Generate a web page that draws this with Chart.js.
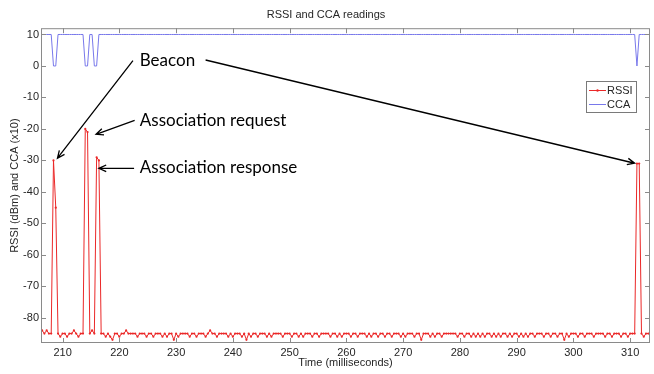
<!DOCTYPE html>
<html>
<head>
<meta charset="utf-8">
<script src="https://cdn.jsdelivr.net/npm/chart.js@4.4.0/dist/chart.umd.min.js"></script>
<style>
    html, body { margin: 0; padding: 0; background: #fff; }
    canvas { display: block; }
</style>
</head>
<body>
<canvas id="rssiChart" width="654" height="374"></canvas>
<script>
/*
    RSSI and CCA readings
*/
var startTime = 206.0;   // ms, first sample
var sampleStep = 0.4;    // ms between samples

var rssiValues = [
    -85, -84, -85, -84, -85, -85, -30, -45, -85, -86,
    -85, -85, -86, -85, -85, -84, -85, -86, -85, -85,
    -20, -21, -85, -84, -85, -29, -30, -85, -85, -86,
    -85, -86, -87, -85, -85, -86, -85, -85, -84, -85,
    -85, -85, -85, -86, -85, -85, -85, -86, -85, -85,
    -86, -85, -85, -85, -86, -85, -86, -85, -85, -87,
    -85, -86, -85, -85, -85, -85, -86, -85, -85, -86,
    -85, -85, -85, -86, -85, -84, -85, -85, -86, -85,
    -85, -85, -85, -86, -85, -86, -85, -85, -85, -86,
    -85, -87, -85, -86, -85, -85, -86, -85, -85, -85,
    -86, -85, -86, -85, -85, -85, -85, -86, -85, -85,
    -85, -86, -85, -85, -86, -85, -86, -85, -85, -85,
    -86, -85, -85, -86, -85, -85, -85, -85, -86, -85,
    -85, -86, -85, -86, -85, -85, -85, -86, -85, -85,
    -86, -85, -85, -85, -86, -85, -86, -85, -85, -86,
    -85, -85, -86, -85, -85, -86, -85, -85, -85, -86,
    -85, -86, -85, -85, -85, -86, -85, -85, -87, -85,
    -85, -85, -86, -85, -86, -85, -85, -86, -85, -85,
    -85, -85, -85, -85, -86, -85, -85, -86, -85, -85,
    -86, -85, -86, -85, -86, -85, -86, -85, -85, -86,
    -85, -86, -85, -86, -85, -85, -86, -85, -86, -85,
    -85, -86, -85, -86, -85, -86, -85, -85, -86, -85,
    -85, -85, -86, -85, -85, -86, -85, -85, -86, -85,
    -85, -87, -85, -86, -85, -85, -85, -86, -85, -85,
    -86, -85, -85, -85, -86, -85, -85, -85, -85, -86,
    -85, -85, -86, -85, -85, -85, -86, -85, -85, -86,
    -85, -85, -85, -31, -31, -85, -86, -85, -85, -85
];

var ccaValues = [
    10, 10, 10, 10, 10, 10, 0, 0, 10, 10,
    10, 10, 10, 10, 10, 10, 10, 10, 10, 10,
    0, 0, 10, 10, 0, 0, 10, 10, 10, 10,
    10, 10, 10, 10, 10, 10, 10, 10, 10, 10,
    10, 10, 10, 10, 10, 10, 10, 10, 10, 10,
    10, 10, 10, 10, 10, 10, 10, 10, 10, 10,
    10, 10, 10, 10, 10, 10, 10, 10, 10, 10,
    10, 10, 10, 10, 10, 10, 10, 10, 10, 10,
    10, 10, 10, 10, 10, 10, 10, 10, 10, 10,
    10, 10, 10, 10, 10, 10, 10, 10, 10, 10,
    10, 10, 10, 10, 10, 10, 10, 10, 10, 10,
    10, 10, 10, 10, 10, 10, 10, 10, 10, 10,
    10, 10, 10, 10, 10, 10, 10, 10, 10, 10,
    10, 10, 10, 10, 10, 10, 10, 10, 10, 10,
    10, 10, 10, 10, 10, 10, 10, 10, 10, 10,
    10, 10, 10, 10, 10, 10, 10, 10, 10, 10,
    10, 10, 10, 10, 10, 10, 10, 10, 10, 10,
    10, 10, 10, 10, 10, 10, 10, 10, 10, 10,
    10, 10, 10, 10, 10, 10, 10, 10, 10, 10,
    10, 10, 10, 10, 10, 10, 10, 10, 10, 10,
    10, 10, 10, 10, 10, 10, 10, 10, 10, 10,
    10, 10, 10, 10, 10, 10, 10, 10, 10, 10,
    10, 10, 10, 10, 10, 10, 10, 10, 10, 10,
    10, 10, 10, 10, 10, 10, 10, 10, 10, 10,
    10, 10, 10, 10, 10, 10, 10, 10, 10, 10,
    10, 10, 10, 10, 10, 10, 10, 10, 10, 10,
    10, 10, 10, 0, 10, 10, 10, 10, 10, 10
];

var seriesNames = ["RSSI", "CCA"];
var xTickValues = [210, 220, 230, 240, 250, 260, 270, 280, 290, 300, 310];
var yTickValues = [-80, -70, -60, -50, -40, -30, -20, -10, 0, 10];
var noteLabels = ["Beacon", "Association request", "Association response"];

var sampleTimes = rssiValues.map(function (v, i) { return startTime + i * sampleStep; });

var rssiColor = "rgb(235, 40, 40)";
var ccaColor = "rgb(120, 120, 235)";
var axisColor = "#8a8a8a";
var textColor = "#262626";
var baseFont = "'Liberation Sans', Arial, sans-serif";

/* annotation text and arrows, placed in data units */
var notes = [
    { text: noteLabels[0], at: [223.6, 1.7],
      arrows: [[[222.4, 1.7], [209.1, -29.3]], [[235.2, 1.9], [310.8, -30.9]]] },
    { text: noteLabels[1], at: [223.6, -17.3],
      arrows: [[[222.7, -17.3], [215.9, -21.7]]] },
    { text: noteLabels[2], at: [223.6, -32.4],
      arrows: [[[222.6, -32.5], [216.4, -32.5]]] }
];

function drawArrow(ctx, x1, y1, x2, y2) {
    var a = Math.atan2(y2 - y1, x2 - x1);
    var len = 8, spread = 0.42;
    ctx.beginPath();
    ctx.moveTo(x1, y1);
    ctx.lineTo(x2, y2);
    ctx.moveTo(x2 - len * Math.cos(a - spread), y2 - len * Math.sin(a - spread));
    ctx.lineTo(x2, y2);
    ctx.lineTo(x2 - len * Math.cos(a + spread), y2 - len * Math.sin(a + spread));
    ctx.stroke();
}

var matlabLook = {
    id: "matlabLook",
    afterDraw: function (chart) {
        var ctx = chart.ctx, area = chart.chartArea;
        var xs = chart.scales.x, ys = chart.scales.y;
        ctx.save();

        // axes box with inward ticks
        ctx.strokeStyle = axisColor;
        ctx.lineWidth = 1;
        ctx.strokeRect(area.left + 0.5, area.top + 0.5, area.right - area.left - 1, area.bottom - area.top - 1);
        ctx.beginPath();
        xTickValues.forEach(function (v) {
            var px = Math.round(xs.getPixelForValue(v)) + 0.5;
            ctx.moveTo(px, area.top); ctx.lineTo(px, area.top + 5);
            ctx.moveTo(px, area.bottom); ctx.lineTo(px, area.bottom - 5);
        });
        yTickValues.forEach(function (v) {
            var py = Math.round(ys.getPixelForValue(v)) + 0.5;
            ctx.moveTo(area.left, py); ctx.lineTo(area.left + 5, py);
            ctx.moveTo(area.right, py); ctx.lineTo(area.right - 5, py);
        });
        ctx.stroke();

        // legend
        var lx = 586, ly = 81, lw = 50, lh = 31;
        ctx.fillStyle = "#fff";
        ctx.fillRect(lx, ly, lw, lh);
        ctx.strokeStyle = "#7a7a7a";
        ctx.strokeRect(lx + 0.5, ly + 0.5, lw, lh);
        ctx.font = "11px " + baseFont;
        ctx.textBaseline = "middle";
        ctx.fillStyle = textColor;
        ctx.lineWidth = 1;
        ctx.strokeStyle = rssiColor;
        ctx.beginPath(); ctx.moveTo(lx + 3, ly + 9.5); ctx.lineTo(lx + 20, ly + 9.5); ctx.stroke();
        ctx.fillStyle = rssiColor;
        ctx.beginPath(); ctx.arc(lx + 11.5, ly + 9.5, 1.2, 0, Math.PI * 2); ctx.fill();
        ctx.strokeStyle = ccaColor;
        ctx.beginPath(); ctx.moveTo(lx + 3, ly + 23.5); ctx.lineTo(lx + 20, ly + 23.5); ctx.stroke();
        ctx.fillStyle = textColor;
        ctx.fillText(seriesNames[0], lx + 21, ly + 9.5);
        ctx.fillText(seriesNames[1], lx + 21, ly + 23.5);

        // annotations
        ctx.strokeStyle = "#000";
        ctx.fillStyle = "#000";
        ctx.lineWidth = 1.3;
        ctx.font = "17px Lato, 'Open Sans', sans-serif";
        ctx.textBaseline = "middle";
        notes.forEach(function (n) {
            ctx.fillText(n.text, xs.getPixelForValue(n.at[0]), ys.getPixelForValue(n.at[1]));
            n.arrows.forEach(function (ar) {
                drawArrow(ctx,
                    xs.getPixelForValue(ar[0][0]), ys.getPixelForValue(ar[0][1]),
                    xs.getPixelForValue(ar[1][0]), ys.getPixelForValue(ar[1][1]));
            });
        });
        ctx.restore();
    }
};

var ctxL = document.getElementById("rssiChart").getContext("2d");
var rssiChart = new Chart(ctxL, {
    type: "line",
    data: {
        datasets: [{
            label: seriesNames[0],
            data: rssiValues.map(function (v, i) { return { x: sampleTimes[i], y: v }; }),
            borderColor: rssiColor,
            backgroundColor: rssiColor,
            borderWidth: 1,
            pointRadius: 1.1,
            pointBorderWidth: 0,
            tension: 0
        }, {
            label: seriesNames[1],
            data: ccaValues.map(function (v, i) { return { x: sampleTimes[i], y: v }; }),
            borderColor: ccaColor,
            backgroundColor: ccaColor,
            borderWidth: 1,
            pointRadius: 0,
            tension: 0
        }]
    },
    options: {
        responsive: false,
        animation: false,
        devicePixelRatio: 1,
        layout: { padding: { left: 0, right: 2, top: 0, bottom: 0 } },
        plugins: {
            legend: { display: false },
            tooltip: { enabled: false },
            title: {
                display: true,
                text: "RSSI and CCA readings",
                color: textColor,
                font: { family: baseFont, size: 11, weight: "normal" },
                padding: { top: 8, bottom: 7 }
            }
        },
        scales: {
            x: {
                type: "linear",
                min: 206.2,
                max: 313.5,
                grid: { display: false, drawTicks: false },
                border: { display: false },
                afterBuildTicks: function (scale) {
                    scale.ticks = xTickValues.map(function (v) { return { value: v }; });
                },
                afterFit: function (scale) { scale.height = 31; },
                ticks: {
                    color: textColor,
                    font: { family: baseFont, size: 11 },
                    padding: 3,
                    maxRotation: 0,
                    autoSkip: false
                },
                title: {
                    display: true,
                    text: "Time (milliseconds)",
                    color: textColor,
                    font: { family: baseFont, size: 11 },
                    padding: { top: 0, bottom: 4 }
                }
            },
            y: {
                min: -88,
                max: 12,
                grid: { display: false, drawTicks: false },
                border: { display: false },
                afterBuildTicks: function (scale) {
                    scale.ticks = yTickValues.map(function (v) { return { value: v }; });
                },
                afterFit: function (scale) { scale.width = 41; },
                ticks: {
                    color: textColor,
                    font: { family: baseFont, size: 11 },
                    padding: 2,
                    autoSkip: false
                },
                title: {
                    display: true,
                    text: "RSSI (dBm) and CCA (x10)",
                    color: textColor,
                    font: { family: baseFont, size: 11 },
                    padding: { top: 8, bottom: 0 }
                }
            }
        }
    },
    plugins: [matlabLook]
});
</script>
</body>
</html>
